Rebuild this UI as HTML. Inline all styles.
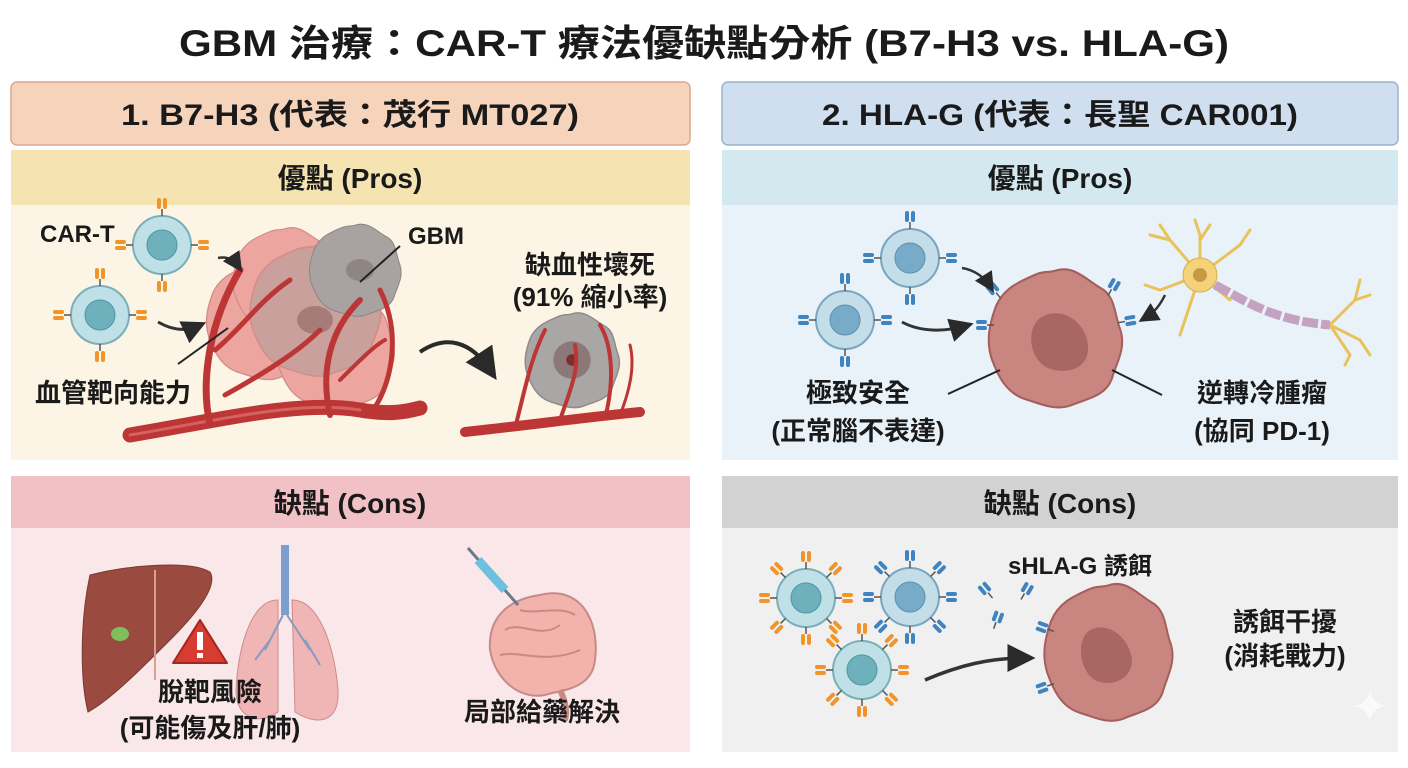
<!DOCTYPE html>
<html><head><meta charset="utf-8"><style>
html,body{margin:0;padding:0;background:#fff;}
svg{display:block;}
text{font-family:"Liberation Sans","Noto Sans CJK TC",sans-serif;font-weight:bold;fill:#1a1a1a;}
</style></head><body>
<svg width="1408" height="768" viewBox="0 0 1408 768" xmlns="http://www.w3.org/2000/svg">
<defs>
<marker id="ah" markerWidth="8" markerHeight="8" refX="5" refY="4" orient="auto"><path d="M0,0 L8,4 L0,8 z" fill="#2a2a2a"/></marker>
<g id="recO"><rect x="-5" y="-14" width="4" height="11" rx="2" fill="#f0952b"/><rect x="1" y="-14" width="4" height="11" rx="2" fill="#f0952b"/><line x1="0" y1="-3" x2="0" y2="4" stroke="#555" stroke-width="1.5"/></g>
<g id="recB"><rect x="-5" y="-14" width="4" height="11" rx="2" fill="#3f83c0"/><rect x="1" y="-14" width="4" height="11" rx="2" fill="#3f83c0"/><line x1="0" y1="-3" x2="0" y2="4" stroke="#555" stroke-width="1.5"/></g>
<g id="cellO"><circle r="29" fill="#bfe0e6" stroke="#7aaeb8" stroke-width="2"/><circle r="15" fill="#6fb0bd" stroke="#4d96a3"/>
<use href="#recO" transform="translate(0,-33)"/><use href="#recO" transform="translate(0,33) rotate(180)"/><use href="#recO" transform="translate(-33,0) rotate(-90)"/><use href="#recO" transform="translate(33,0) rotate(90)"/></g>
<g id="cellB"><circle r="29" fill="#c3dde9" stroke="#7aa5c0" stroke-width="2"/><circle r="15" fill="#78abc8" stroke="#5a90b0"/>
<use href="#recB" transform="translate(0,-33)"/><use href="#recB" transform="translate(0,33) rotate(180)"/><use href="#recB" transform="translate(-33,0) rotate(-90)"/><use href="#recB" transform="translate(33,0) rotate(90)"/></g>
<g id="cellO8"><use href="#cellO"/><use href="#recO" transform="rotate(45) translate(0,-33)"/><use href="#recO" transform="rotate(135) translate(0,-33)"/><use href="#recO" transform="rotate(225) translate(0,-33)"/><use href="#recO" transform="rotate(315) translate(0,-33)"/></g>
<g id="cellB8"><use href="#cellB"/><use href="#recB" transform="rotate(45) translate(0,-33)"/><use href="#recB" transform="rotate(135) translate(0,-33)"/><use href="#recB" transform="rotate(225) translate(0,-33)"/><use href="#recB" transform="rotate(315) translate(0,-33)"/></g>
<path id="blob" d="M0,-64 C18,-70 30,-56 44,-48 C60,-40 58,-22 64,-8 C70,10 60,24 56,38 C50,56 30,58 16,64 C0,70 -16,62 -30,58 C-48,52 -56,36 -62,20 C-68,2 -64,-14 -58,-30 C-50,-48 -34,-54 -20,-60 C-12,-64 -6,-62 0,-64 Z"/>
</defs>

<text x="704" y="56" text-anchor="middle" font-size="37" textLength="1050" lengthAdjust="spacingAndGlyphs">GBM 治療：CAR-T 療法優缺點分析 (B7-H3 vs. HLA-G)</text>

<!-- LEFT -->
<rect x="11" y="82" width="679" height="63" rx="6" fill="#f6d3bb" stroke="#d9a98c" stroke-width="1.5"/>
<text x="350" y="125" text-anchor="middle" font-size="30" textLength="458" lengthAdjust="spacingAndGlyphs">1. B7-H3 (代表：茂行 MT027)</text>
<rect x="11" y="150" width="679" height="55" fill="#f6e3b2"/>
<rect x="11" y="205" width="679" height="255" fill="#fcf4e4"/>
<text x="350" y="188" text-anchor="middle" font-size="28">優點 (Pros)</text>
<rect x="11" y="476" width="679" height="52" fill="#f1c1c5"/>
<rect x="11" y="528" width="679" height="224" fill="#fae7e9"/>
<text x="350" y="513" text-anchor="middle" font-size="28">缺點 (Cons)</text>

<!-- left pros art -->
<g transform="translate(305,310)" fill="#eda5a0" stroke="#d38c88" stroke-width="1.5">
<use href="#blob" transform="translate(-40,10) scale(0.9)"/>
<use href="#blob" transform="translate(30,40) scale(0.9)"/>
<use href="#blob" transform="translate(-20,-30) scale(0.8)"/>
<use href="#blob" transform="translate(10,0)" fill="#c9a09c"/>
<use href="#blob" transform="translate(50,-40) scale(0.7)" fill="#a8a3a0" stroke="#8d8784"/>
<ellipse cx="10" cy="10" rx="18" ry="14" fill="#a57c78" stroke="none"/>
<ellipse cx="55" cy="-40" rx="14" ry="11" fill="#8f8582" stroke="none"/>
</g>
<g fill="none" stroke="#bd3636" stroke-linecap="round">
<path d="M130,435 C220,420 300,400 360,410 C390,415 405,412 420,408" stroke-width="15"/>
<path d="M130,435 C220,420 300,400 360,410" stroke="#d86060" stroke-width="3"/>
<path d="M210,425 C200,380 210,320 240,270" stroke-width="7"/>
<path d="M215,350 C240,330 260,300 290,280" stroke-width="5"/>
<path d="M225,395 C270,370 300,350 320,330" stroke-width="5"/>
<path d="M330,415 C320,370 330,330 360,300" stroke-width="6"/>
<path d="M370,415 C395,380 400,330 380,290" stroke-width="5"/>
<path d="M340,380 C360,360 375,345 385,340" stroke-width="4"/>
</g>
<use href="#cellO" transform="translate(162,245)"/>
<use href="#cellO" transform="translate(100,315)"/>
<path d="M218,258 C228,256 234,260 238,266" fill="none" stroke="#333" stroke-width="2.5" marker-end="url(#ah)"/>
<path d="M158,322 C172,330 185,332 198,326" fill="none" stroke="#333" stroke-width="3" marker-end="url(#ah)"/>
<line x1="178" y1="364" x2="228" y2="328" stroke="#222" stroke-width="2"/>
<line x1="400" y1="246" x2="360" y2="282" stroke="#222" stroke-width="2"/>
<text x="40" y="242" font-size="24">CAR-T</text>
<text x="408" y="244" font-size="24">GBM</text>
<text x="35" y="402" font-size="26">血管靶向能力</text>
<text x="590" y="274" text-anchor="middle" font-size="26">缺血性壞死</text>
<text x="590" y="306" text-anchor="middle" font-size="26">(91% 縮小率)</text>
<path d="M420,352 C445,335 470,340 490,370" fill="none" stroke="#2a2a2a" stroke-width="4" marker-end="url(#ah)"/>
<g transform="translate(572,360) scale(0.72)" fill="#a9a6a6" stroke="#8e8a8a" stroke-width="2">
<use href="#blob"/><circle r="26" fill="#8c7878" stroke="none"/><circle r="8" fill="#7a3030" stroke="none"/>
</g>
<g fill="none" stroke="#bd3636" stroke-linecap="round">
<path d="M465,432 C530,425 580,418 640,412" stroke-width="10"/>
<path d="M515,428 C525,390 530,360 545,330" stroke-width="4"/>
<path d="M560,420 C570,390 580,370 575,345" stroke-width="4"/>
<path d="M605,418 C615,380 612,345 600,325" stroke-width="4"/>
<path d="M620,415 C630,390 635,365 630,345" stroke-width="3"/>
</g>

<!-- left cons art -->
<path d="M90,575 C130,565 190,560 210,572 C218,585 200,610 170,640 C140,670 110,700 88,712 C80,680 80,620 90,575 Z" fill="#9a4a3e" stroke="#7a3a30"/>
<path d="M155,570 L155,680" stroke="#d8a090" stroke-width="2"/>
<ellipse cx="120" cy="634" rx="9" ry="7" fill="#7fbe5a"/>
<path d="M200,620 L227,663 L173,663 Z" fill="#d83b30" stroke="#a02820" stroke-width="2" stroke-linejoin="round"/>
<rect x="197" y="632" width="6" height="18" fill="#fff"/><rect x="197" y="653" width="6" height="5" fill="#fff"/>
<rect x="281" y="545" width="8" height="70" fill="#7a9fcf"/>
<path d="M278,600 C250,600 238,650 236,690 C236,720 260,725 278,712 Z" fill="#f0b5b5" stroke="#cf8a8a"/>
<path d="M292,600 C320,600 335,650 338,690 C340,725 315,725 295,712 Z" fill="#f0b5b5" stroke="#cf8a8a"/>
<path d="M283,615 L265,650 M287,615 L310,650 M270,640 L255,660 M305,640 L320,665" stroke="#8a9ac0" stroke-width="2" fill="none"/>
<path d="M540,595 C580,585 600,620 595,660 C592,690 560,690 545,695 C520,700 495,680 490,650 C488,620 505,600 540,595 Z" fill="#f1b3ac" stroke="#c78a85" stroke-width="2"/>
<path d="M560,690 C565,700 568,710 565,720" stroke="#c78a85" stroke-width="6" fill="none"/>
<path d="M505,630 C520,620 540,640 560,625 M500,655 C520,650 545,665 580,650 M520,610 C535,615 560,605 575,615" stroke="#c78a85" stroke-width="2" fill="none"/>
<line x1="468" y1="548" x2="518" y2="605" stroke="#6a7a8a" stroke-width="3"/>
<line x1="478" y1="560" x2="505" y2="590" stroke="#6fbfe0" stroke-width="9"/>
<text x="210" y="701" text-anchor="middle" font-size="26">脫靶風險</text>
<text x="210" y="737" text-anchor="middle" font-size="26">(可能傷及肝/肺)</text>
<text x="542" y="721" text-anchor="middle" font-size="26">局部給藥解決</text>

<!-- RIGHT -->
<rect x="722" y="82" width="676" height="63" rx="6" fill="#cfdff0" stroke="#98b2cf" stroke-width="1.5"/>
<text x="1060" y="125" text-anchor="middle" font-size="30" textLength="476" lengthAdjust="spacingAndGlyphs">2. HLA-G (代表：長聖 CAR001)</text>
<rect x="722" y="150" width="676" height="55" fill="#d3e9ef"/>
<rect x="722" y="205" width="676" height="255" fill="#e9f2f9"/>
<text x="1060" y="188" text-anchor="middle" font-size="28">優點 (Pros)</text>
<rect x="722" y="476" width="676" height="52" fill="#d2d2d2"/>
<rect x="722" y="528" width="676" height="224" fill="#f0f0f0"/>
<text x="1060" y="513" text-anchor="middle" font-size="28">缺點 (Cons)</text>

<!-- right pros art -->
<g transform="translate(1055,338) scale(1.02,1.05)"><use href="#blob" fill="#c98580" stroke="#a55e5b" stroke-width="2"/></g>
<path d="M1040,318 C1060,305 1085,320 1088,345 C1090,370 1065,375 1048,368 C1030,360 1025,330 1040,318 Z" fill="#a96764"/>
<g transform="translate(998,295) rotate(-40)"><use href="#recB"/></g>
<g transform="translate(1110,292) rotate(30)"><use href="#recB"/></g>
<g transform="translate(990,325) rotate(-90)"><use href="#recB"/></g>
<g transform="translate(1122,322) rotate(80)"><use href="#recB"/></g>
<use href="#cellB" transform="translate(910,258)"/>
<use href="#cellB" transform="translate(845,320)"/>
<path d="M962,268 C975,270 985,278 990,286" fill="none" stroke="#333" stroke-width="2.5" marker-end="url(#ah)"/>
<path d="M902,322 C920,332 945,332 965,326" fill="none" stroke="#333" stroke-width="3" marker-end="url(#ah)"/>
<g stroke="#e7c35a" stroke-width="3" fill="none" stroke-linecap="round">
<path d="M1200,275 L1170,240 L1160,225 M1170,240 L1150,235 M1200,275 L1200,235 L1195,220 M1200,240 L1210,225 M1200,275 L1240,245 L1250,230 M1200,275 L1160,290 L1145,285 M1200,275 L1185,320 L1180,335 M1200,275 L1230,300"/>
<path d="M1330,325 L1355,300 L1360,280 M1355,300 L1370,295 M1330,325 L1360,340 L1370,355 M1330,325 L1350,355 L1345,365"/>
</g>
<circle cx="1200" cy="275" r="17" fill="#f3d27a" stroke="#d7ad4a"/><circle cx="1200" cy="275" r="7" fill="#c99a45"/>
<path d="M1215,285 C1245,300 1270,320 1330,325" stroke="#c6a2c2" stroke-width="9" fill="none" stroke-dasharray="16 3"/>
<path d="M1165,295 C1160,305 1155,312 1145,318" fill="none" stroke="#333" stroke-width="2.5" marker-end="url(#ah)"/>
<line x1="948" y1="394" x2="1000" y2="370" stroke="#222" stroke-width="2"/>
<line x1="1112" y1="370" x2="1162" y2="395" stroke="#222" stroke-width="2"/>
<text x="858" y="402" text-anchor="middle" font-size="26">極致安全</text>
<text x="858" y="440" text-anchor="middle" font-size="26">(正常腦不表達)</text>
<text x="1262" y="402" text-anchor="middle" font-size="26">逆轉冷腫瘤</text>
<text x="1262" y="440" text-anchor="middle" font-size="26">(協同 PD-1)</text>

<!-- right cons art -->
<use href="#cellO8" transform="translate(806,598)"/>
<use href="#cellB8" transform="translate(910,597)"/>
<use href="#cellO8" transform="translate(862,670)"/>
<g transform="translate(1108,652) scale(0.98,1.04)"><use href="#blob" fill="#c98580" stroke="#a55e5b" stroke-width="2"/></g>
<path d="M1090,630 C1110,620 1130,640 1132,660 C1132,680 1110,688 1095,680 C1080,672 1075,640 1090,630 Z" fill="#a96764"/>
<g transform="translate(1050,630) rotate(-70)"><use href="#recB"/></g>
<g transform="translate(1050,685) rotate(-110)"><use href="#recB"/></g>
<g transform="translate(990,595) rotate(-40)"><use href="#recB"/></g>
<g transform="translate(1023,596) rotate(30)"><use href="#recB"/></g>
<g transform="translate(995,625) rotate(20)"><use href="#recB"/></g>
<path d="M925,680 C960,665 990,658 1025,658" fill="none" stroke="#333" stroke-width="3.5" marker-end="url(#ah)"/>
<text x="1080" y="574" text-anchor="middle" font-size="24">sHLA-G 誘餌</text>
<text x="1285" y="631" text-anchor="middle" font-size="26">誘餌干擾</text>
<text x="1285" y="665" text-anchor="middle" font-size="26">(消耗戰力)</text>
<path d="M1370,690 C1372,700 1376,704 1386,706 C1376,708 1372,712 1370,722 C1368,712 1364,708 1354,706 C1364,704 1368,700 1370,690 Z" fill="#fafafa"/>
</svg>
</body></html>
